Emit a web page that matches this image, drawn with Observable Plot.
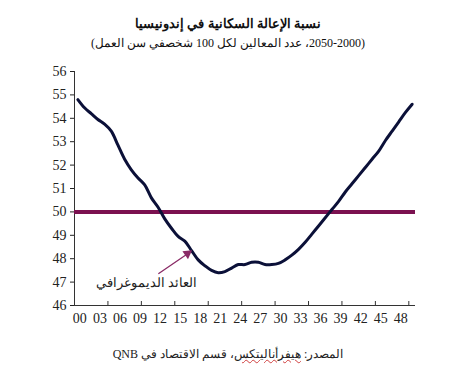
<!DOCTYPE html>
<html><head><meta charset="utf-8">
<script src="https://cdn.jsdelivr.net/npm/d3@7"></script>
<script src="https://cdn.jsdelivr.net/npm/@observablehq/plot@0.6"></script>
<style>
body{margin:0;background:#fff;width:456px;height:380px;overflow:hidden;font-family:"Liberation Serif","Times New Roman",Times,serif;}
#head{position:relative;height:60px;}
.t{position:absolute;left:0;width:456px;text-align:center;direction:rtl;white-space:nowrap;color:#111;line-height:1.2}
#title{top:16px;font-size:13px;font-weight:bold;}
#sub{top:36px;font-size:12px;}
#chart svg{display:block}
#cap{direction:rtl;text-align:center;font-size:12px;margin-top:6px;color:#222;line-height:16px}
#cap .sp{text-decoration:underline wavy #d04040;text-decoration-thickness:1px}
</style></head><body>
<div id="head">
  <div class="t" id="title">نسبة الإعالة السكانية في إندونيسيا</div>
  <div class="t" id="sub">(2000&#x200F;-2050، عدد المعالين لكل 100 شخصفي سن العمل)</div>
</div>
<div id="chart"></div>
<div id="cap">المصدر: <span class="sp">هيفرأناليتكس</span>، قسم الاقتصاد في QNB</div>
<script>
const years = d3.range(2000, 2051);
const values = [
  54.8, 54.45, 54.2, 53.95, 53.75, 53.45, 52.85, 52.25, 51.8, 51.45,
  51.15, 50.6, 50.2, 49.7, 49.3, 48.95, 48.75, 48.35, 47.95, 47.7,
  47.5, 47.4, 47.45, 47.6, 47.75, 47.75, 47.85, 47.85, 47.75, 47.75,
  47.8, 47.95, 48.15, 48.4, 48.7, 49.05, 49.4, 49.75, 50.1, 50.45,
  50.85, 51.2, 51.55, 51.9, 52.25, 52.6, 53.05, 53.45, 53.85, 54.25,
  54.6
];
const referenceLevel = 50;
const yTicks = [46, 47, 48, 49, 50, 51, 52, 53, 54, 55, 56];
const xLabelYears = d3.range(2000, 2050, 3);
const xTickBounds = d3.range(1999.5, 2051, 5);
const annotationText = ["العائد الديموغرافي"];
const annotationPos = [{year: 2010.3, value: 46.98}];
const arrowFromTo = [{x1: 2012.1, y1: 47.37, x2: 2016.2, y2: 48.17}];
const arrowHead = [{year: 2016.4, value: 48.22}];

const serif = '"Liberation Serif", "Times New Roman", Times, serif';
const data = years.map((y, i) => ({year: y, value: values[i]}));
const H = 280;
const chart = Plot.plot({
  width: 456, height: H,
  marginLeft: 74, marginRight: 41, marginTop: 11, marginBottom: 35,
  style: {fontFamily: serif, fontSize: "13px", color: "#222", background: "#fff"},
  x: {domain: [1999.5, 2050.5]},
  y: {domain: [46, 56]},
  marks: [
    Plot.axisY({ticks: yTicks, tickSize: 4, tickPadding: 4, label: null, fontSize: 14, fontFamily: serif}),
    Plot.axisX({ticks: xLabelYears, tickSize: 0, tickPadding: 8, label: null, fontSize: 14, fontFamily: serif, dx: 2,
      tickFormat: d => String(d % 100).padStart(2, "0")}),
    Plot.tickX(xTickBounds, {x: d => d, insetTop: H - 11 - 35 - 4, stroke: "#333", strokeWidth: 1}),
    Plot.ruleX([1999.5], {stroke: "#333", strokeWidth: 1}),
    Plot.ruleY([46], {stroke: "#333", strokeWidth: 1}),
    Plot.ruleY([referenceLevel], {stroke: "#7b1150", strokeWidth: 4}),
    Plot.line(data, {x: "year", y: "value", stroke: "#0b1038", strokeWidth: 3, curve: "catmull-rom"}),
    Plot.arrow(arrowFromTo, {x1: "x1", y1: "y1", x2: "x2", y2: "y2", stroke: "#8a2a66", strokeWidth: 1.3, headLength: 0}),
    Plot.dot(arrowHead, {x: "year", y: "value", symbol: "triangle", r: 3.6, fill: "#8a2a66", stroke: "none", rotate: 55}),
    Plot.text(annotationPos, {x: "year", y: "value", text: (d, i) => annotationText[i], fontSize: 12.5, fill: "#222"})
  ]
});
document.getElementById("chart").appendChild(chart);
</script>
</body></html>
